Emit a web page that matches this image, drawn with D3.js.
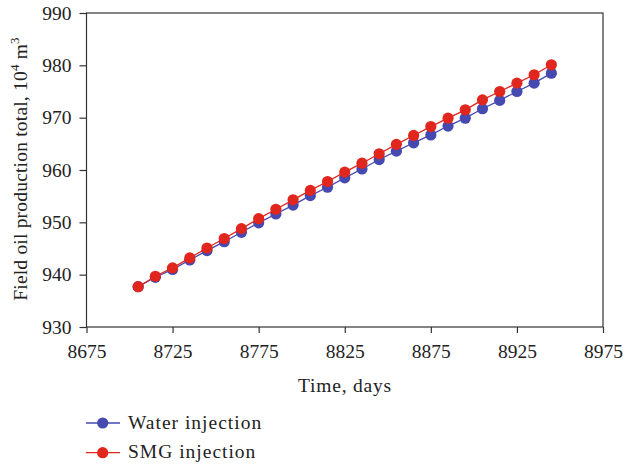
<!DOCTYPE html>
<html><head><meta charset="utf-8">
<script src="https://cdn.jsdelivr.net/npm/d3@7"></script>
<style>body{margin:0;background:#fff;} text{font-family:"Liberation Serif","DejaVu Serif",serif;fill:#222;}</style>
</head><body>
<svg id="c" width="625" height="466"></svg>
<script>
const days = [8705,8715,8725,8735,8745,8755,8765,8775,8785,8795,8805,8815,8825,8835,8845,8855,8865,8875,8885,8895,8905,8915,8925,8935,8945];
const water = [937.7,939.5,941.0,942.8,944.6,946.3,948.1,949.9,951.6,953.3,955.1,956.7,958.5,960.2,962.0,963.6,965.2,966.7,968.4,969.9,971.7,973.3,975.0,976.6,978.5];
const smg = [937.7,939.7,941.3,943.2,945.1,946.9,948.8,950.7,952.5,954.3,956.1,957.8,959.6,961.3,963.1,964.9,966.6,968.3,969.9,971.5,973.4,975.0,976.6,978.2,980.1];
const xTicks = [8675,8725,8775,8825,8875,8925,8975];
const yTicks = [930,940,950,960,970,980,990];
const seriesNames = ["Water injection","SMG injection"];
const colors = ["#4549b0","#e0261d"];

const svg = d3.select("#c");
const L=86.5, R=603, T=13, B=327;
const x = d3.scaleLinear().domain([8675,8975]).range([L,R]);
const y = d3.scaleLinear().domain([930,990]).range([B,T]);

const ax = svg.append("g").attr("transform",`translate(0,${B})`)
  .call(d3.axisBottom(x).tickValues(xTicks).tickSize(6).tickPadding(11).tickFormat(d3.format("d")));
const ay = svg.append("g").attr("transform",`translate(${L},0)`)
  .call(d3.axisLeft(y).tickValues(yTicks).tickSize(7).tickPadding(8).tickFormat(d3.format("d")));
[ax,ay].forEach(a=>{a.selectAll("path,line").attr("stroke","#333").attr("stroke-width",1.2);
  a.selectAll("text").style("font-size","19.5px").style("font-family","Liberation Serif, serif").attr("fill","#222");
  a.select(".domain").remove();});
svg.append("rect").attr("x",L).attr("y",T).attr("width",R-L).attr("height",B-T)
  .attr("fill","none").attr("stroke","#333").attr("stroke-width",1.2);

const data = [water, smg];
data.forEach((vals,k)=>{
  const pts = days.map((d,i)=>[d,vals[i]]);
  svg.append("path").datum(pts).attr("fill","none").attr("stroke",colors[k]).attr("stroke-width",1.3)
    .attr("d",d3.line().x(p=>x(p[0])).y(p=>y(p[1])));
  svg.append("g").selectAll("circle").data(pts).join("circle")
    .attr("cx",p=>x(p[0])).attr("cy",p=>y(p[1])).attr("r",5.6).attr("fill",colors[k]);
});

svg.append("text").attr("x",345).attr("y",392).attr("text-anchor","middle")
  .style("font-size","19.5px").style("letter-spacing","0.8px").text("Time, days");
const yl = svg.append("text").attr("transform",`translate(27,169) rotate(-90)`)
  .attr("text-anchor","middle").style("font-size","19.5px").style("letter-spacing","0.2px");
yl.append("tspan").text("Field oil production total, 10");
yl.append("tspan").attr("dy",-8).style("font-size","13px").text("4");
yl.append("tspan").attr("dy",8).text(" m");
yl.append("tspan").attr("dy",-8).style("font-size","13px").text("3");

seriesNames.forEach((n,k)=>{
  const yy = 423 + k*29.7;
  svg.append("line").attr("x1",86).attr("x2",120).attr("y1",yy).attr("y2",yy).attr("stroke",colors[k]).attr("stroke-width",1.3);
  svg.append("circle").attr("cx",102.7).attr("cy",yy).attr("r",5.6).attr("fill",colors[k]);
  svg.append("text").attr("x",128).attr("y",yy+5.5).style("font-size","19.5px").style("letter-spacing","1px").text(n);
});
</script>
</body></html>
